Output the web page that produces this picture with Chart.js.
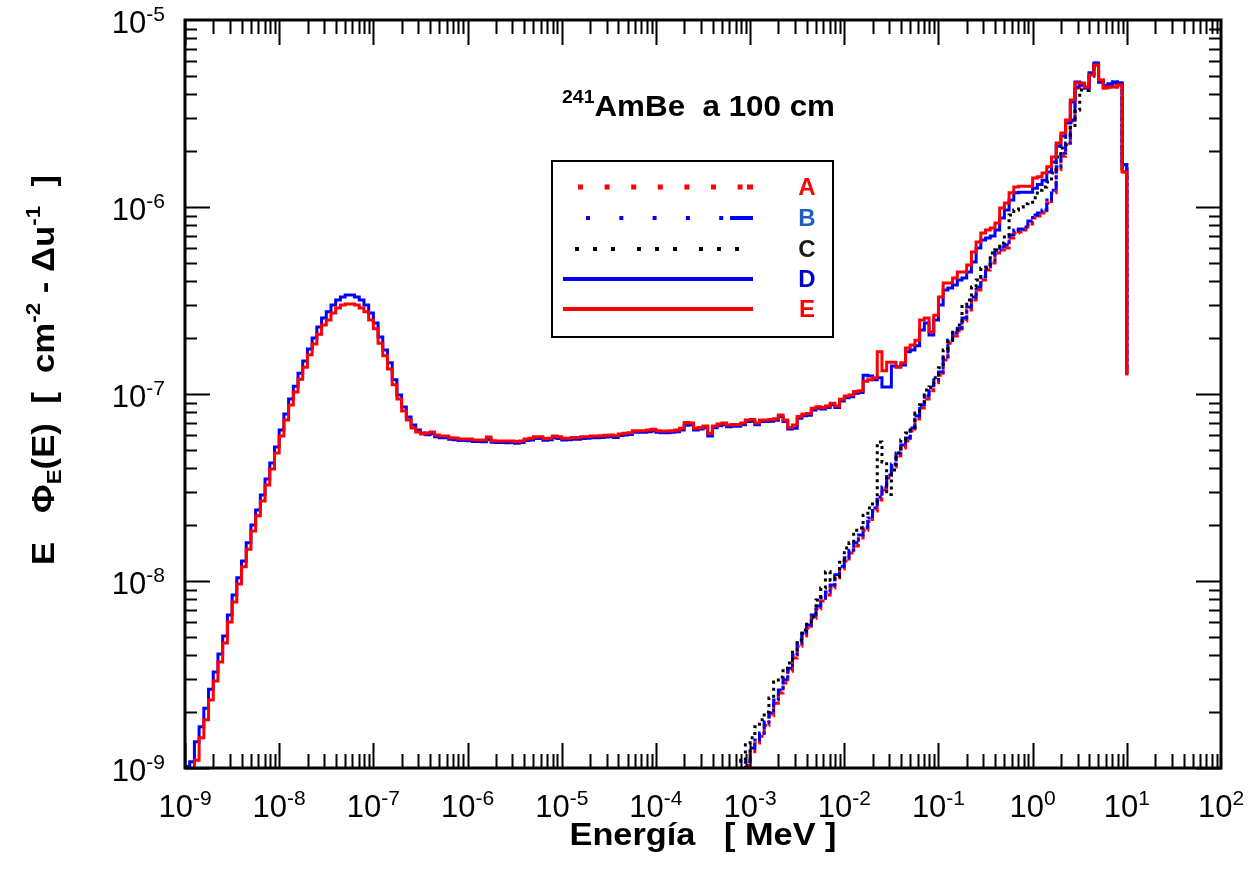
<!DOCTYPE html>
<html>
<head>
<meta charset="utf-8">
<script src="https://cdn.jsdelivr.net/npm/chart.js@4.4.1/dist/chart.umd.min.js"></script>
<style>
  html, body { margin: 0; padding: 0; background: #fff; }
  #wrap { width: 1257px; height: 879px; }
</style>
</head>
<body>
<div id="wrap"><canvas id="spectrumChart" width="1257" height="879"></canvas></div>
<script>
// Histograma de 20 grupos por decada, desde 1e-9 MeV. Cada valor es el del grupo
// que empieza en su borde izquierdo; el ultimo valor de cada serie es el punto
// final en 10 MeV (la caida vertical).
const logEMin = -9;
const binsPerDecade = 20;

// D: espectro completo (azul continuo), grupos 0..199 + final
const seriesD = [
  1.02e-9, 1.08e-9, 1.38e-9, 1.66e-9, 2.09e-9, 2.64e-9, 3.26e-9, 4.07e-9, 5.08e-9, 6.58e-9,
  8.41e-9, 1.04e-8, 1.28e-8, 1.60e-8, 1.99e-8, 2.40e-8, 2.88e-8, 3.51e-8, 4.27e-8, 5.21e-8,
  6.42e-8, 7.82e-8, 9.40e-8, 1.10e-7, 1.29e-7, 1.50e-7, 1.74e-7, 1.99e-7, 2.28e-7, 2.55e-7,
  2.75e-7, 2.99e-7, 3.18e-7, 3.30e-7, 3.38e-7, 3.38e-7, 3.30e-7, 3.18e-7, 2.99e-7, 2.71e-7,
  2.40e-7, 2.02e-7, 1.72e-7, 1.47e-7, 1.19e-7, 9.88e-8, 8.51e-8, 7.53e-8, 6.83e-8, 6.42e-8,
  6.18e-8, 6.06e-8, 6.13e-8, 5.91e-8, 5.84e-8, 5.84e-8, 5.72e-8, 5.70e-8, 5.64e-8, 5.64e-8,
  5.62e-8, 5.57e-8, 5.57e-8, 5.56e-8, 5.70e-8, 5.52e-8, 5.50e-8, 5.50e-8, 5.49e-8, 5.50e-8,
  5.46e-8, 5.50e-8, 5.64e-8, 5.68e-8, 5.79e-8, 5.78e-8, 5.66e-8, 5.69e-8, 5.84e-8, 5.79e-8,
  5.68e-8, 5.69e-8, 5.73e-8, 5.73e-8, 5.79e-8, 5.80e-8, 5.84e-8, 5.84e-8, 5.86e-8, 5.89e-8,
  5.91e-8, 5.86e-8, 5.99e-8, 6.04e-8, 6.08e-8, 6.24e-8, 6.24e-8, 6.24e-8, 6.29e-8, 6.34e-8,
  6.24e-8, 6.21e-8, 6.21e-8, 6.24e-8, 6.29e-8, 6.42e-8, 6.80e-8, 6.85e-8, 6.42e-8, 6.50e-8,
  6.60e-8, 5.96e-8, 6.60e-8, 6.77e-8, 6.85e-8, 6.69e-8, 6.73e-8, 6.72e-8, 6.85e-8, 7.12e-8,
  7.15e-8, 6.85e-8, 7.12e-8, 7.12e-8, 7.15e-8, 7.23e-8, 7.57e-8, 7.12e-8, 6.50e-8, 6.55e-8,
  7.43e-8, 7.66e-8, 7.70e-8, 8.22e-8, 8.39e-8, 8.31e-8, 8.46e-8, 8.75e-8, 8.46e-8, 9.17e-8,
  9.56e-8, 9.68e-8, 1.01e-7, 1.02e-7, 1.26e-7, 1.25e-7, 1.19e-7, 1.22e-7, 1.09e-7, 1.09e-7,
  1.41e-7, 1.40e-7, 1.43e-7, 1.68e-7, 1.72e-7, 1.81e-7, 2.20e-7, 2.40e-7, 2.07e-7, 2.49e-7,
  2.99e-7, 3.60e-7, 3.69e-7, 3.83e-7, 4.07e-7, 4.17e-7, 4.49e-7, 5.08e-7, 6.03e-7, 6.66e-7,
  6.83e-7, 7.00e-7, 7.53e-7, 8.73e-7, 9.64e-7, 1.09e-6, 1.19e-6, 1.20e-6, 1.20e-6, 1.20e-6,
  1.26e-6, 1.32e-6, 1.39e-6, 1.54e-6, 1.74e-6, 2.12e-6, 2.40e-6, 2.81e-6, 3.64e-6, 4.66e-6,
  4.49e-6, 4.33e-6, 5.21e-6, 5.89e-6, 4.66e-6, 4.44e-6, 4.55e-6, 4.66e-6, 4.60e-6, 1.68e-6,
  1.30e-7
];

// E: espectro completo (rojo continuo), grupos 0..199 + final
const seriesE = [
  9.6e-10, 9.9e-10, 1.10e-9, 1.45e-9, 1.81e-9, 2.31e-9, 2.92e-9, 3.69e-9, 4.66e-9, 6.04e-9,
  7.72e-9, 9.64e-9, 1.19e-8, 1.48e-8, 1.85e-8, 2.23e-8, 2.68e-8, 3.26e-8, 3.97e-8, 4.83e-8,
  5.96e-8, 7.26e-8, 8.73e-8, 1.025e-7, 1.20e-7, 1.39e-7, 1.62e-7, 1.85e-7, 2.09e-7, 2.34e-7,
  2.49e-7, 2.71e-7, 2.88e-7, 2.99e-7, 3.03e-7, 3.03e-7, 2.99e-7, 2.88e-7, 2.75e-7, 2.49e-7,
  2.23e-7, 1.87e-7, 1.60e-7, 1.36e-7, 1.12e-7, 9.40e-8, 8.11e-8, 7.26e-8, 6.58e-8, 6.26e-8,
  6.11e-8, 6.18e-8, 6.26e-8, 6.03e-8, 5.96e-8, 5.96e-8, 5.84e-8, 5.82e-8, 5.75e-8, 5.75e-8,
  5.75e-8, 5.68e-8, 5.68e-8, 5.68e-8, 5.89e-8, 5.63e-8, 5.61e-8, 5.61e-8, 5.61e-8, 5.61e-8,
  5.57e-8, 5.61e-8, 5.75e-8, 5.80e-8, 5.91e-8, 5.91e-8, 5.78e-8, 5.80e-8, 5.96e-8, 5.91e-8,
  5.80e-8, 5.80e-8, 5.85e-8, 5.85e-8, 5.91e-8, 5.91e-8, 5.96e-8, 5.96e-8, 5.98e-8, 6.01e-8,
  6.03e-8, 5.98e-8, 6.11e-8, 6.16e-8, 6.20e-8, 6.37e-8, 6.37e-8, 6.37e-8, 6.42e-8, 6.47e-8,
  6.37e-8, 6.34e-8, 6.34e-8, 6.37e-8, 6.42e-8, 6.55e-8, 7.03e-8, 6.99e-8, 6.55e-8, 6.63e-8,
  6.74e-8, 6.16e-8, 6.74e-8, 6.91e-8, 6.99e-8, 6.83e-8, 6.87e-8, 6.86e-8, 6.99e-8, 7.26e-8,
  7.30e-8, 6.99e-8, 7.26e-8, 7.26e-8, 7.30e-8, 7.38e-8, 7.72e-8, 7.26e-8, 6.63e-8, 6.83e-8,
  7.58e-8, 7.82e-8, 7.86e-8, 8.39e-8, 8.56e-8, 8.48e-8, 8.63e-8, 8.93e-8, 8.63e-8, 9.36e-8,
  9.76e-8, 9.88e-8, 1.03e-7, 1.04e-7, 1.17e-7, 1.19e-7, 1.22e-7, 1.68e-7, 1.33e-7, 1.48e-7,
  1.48e-7, 1.39e-7, 1.47e-7, 1.76e-7, 1.83e-7, 1.94e-7, 2.49e-7, 2.55e-7, 2.15e-7, 2.64e-7,
  3.30e-7, 3.92e-7, 3.92e-7, 4.17e-7, 4.49e-7, 4.49e-7, 4.90e-7, 5.74e-7, 6.50e-7, 7.26e-7,
  7.53e-7, 7.72e-7, 8.21e-7, 9.88e-7, 1.05e-6, 1.19e-6, 1.28e-6, 1.29e-6, 1.29e-6, 1.29e-6,
  1.43e-6, 1.45e-6, 1.52e-6, 1.64e-6, 1.85e-6, 2.20e-6, 2.49e-6, 2.92e-6, 3.73e-6, 4.60e-6,
  4.60e-6, 4.38e-6, 5.08e-6, 5.74e-6, 4.78e-6, 4.33e-6, 4.38e-6, 4.38e-6, 4.49e-6, 1.54e-6,
  1.26e-7
];

// A: componente rapida (rojo punteado), grupos 118..199 + final
const startA = 118;
const seriesA = [
  7.8e-10,
  1.03e-9, 1.22e-9, 1.36e-9, 1.48e-9, 1.69e-9, 1.90e-9, 2.22e-9, 2.52e-9, 2.85e-9, 3.29e-9,
  3.88e-9, 4.48e-9, 5.08e-9, 5.60e-9, 6.33e-9, 7.08e-9, 7.81e-9, 8.41e-9, 9.18e-9, 1.04e-8,
  1.16e-8, 1.28e-8, 1.41e-8, 1.54e-8, 1.70e-8, 1.87e-8, 2.09e-8, 2.37e-8, 2.71e-8, 3.07e-8,
  3.56e-8, 4.07e-8, 4.66e-8, 5.15e-8, 5.61e-8, 6.34e-8, 7.35e-8, 8.41e-8, 9.40e-8, 1.04e-7,
  1.15e-7, 1.26e-7, 1.52e-7, 1.87e-7, 2.04e-7, 2.17e-7, 2.46e-7, 2.81e-7, 3.18e-7, 3.60e-7,
  4.07e-7, 4.61e-7, 5.02e-7, 5.68e-7, 5.89e-7, 6.03e-7, 6.83e-7, 7.26e-7, 7.35e-7, 7.53e-7,
  8.11e-7, 8.73e-7, 8.95e-7, 9.29e-7, 1.05e-6, 1.19e-6, 1.58e-6, 1.87e-6, 2.15e-6, 2.85e-6,
  4.33e-6, 4.55e-6, 4.38e-6, 5.08e-6, 5.74e-6, 4.78e-6, 4.33e-6, 4.38e-6, 4.38e-6, 4.49e-6,
  1.54e-6,
  1.26e-7
];

// B: componente rapida (azul punto-raya), grupos 118..199 + final
const startB = 118;
const seriesB = [
  8.0e-10,
  1.08e-9, 1.28e-9, 1.41e-9, 1.54e-9, 1.76e-9, 1.97e-9, 2.31e-9, 2.61e-9, 2.96e-9, 3.42e-9,
  4.02e-9, 4.66e-9, 5.27e-9, 5.81e-9, 6.58e-9, 7.35e-9, 8.11e-9, 8.73e-9, 9.52e-9, 1.08e-8,
  1.20e-8, 1.33e-8, 1.46e-8, 1.60e-8, 1.76e-8, 1.94e-8, 2.17e-8, 2.46e-8, 2.81e-8, 3.18e-8,
  3.69e-8, 4.22e-8, 4.84e-8, 5.34e-8, 5.82e-8, 6.58e-8, 7.63e-8, 8.73e-8, 9.76e-8, 1.08e-7,
  1.19e-7, 1.31e-7, 1.58e-7, 1.94e-7, 2.12e-7, 2.25e-7, 2.55e-7, 2.92e-7, 3.30e-7, 3.73e-7,
  4.22e-7, 4.78e-7, 5.21e-7, 5.89e-7, 6.11e-7, 6.26e-7, 7.08e-7, 7.53e-7, 7.63e-7, 7.82e-7,
  8.41e-7, 9.06e-7, 9.28e-7, 9.64e-7, 1.09e-6, 1.23e-6, 1.64e-6, 1.94e-6, 2.20e-6, 2.92e-6,
  4.38e-6, 4.49e-6, 4.33e-6, 5.21e-6, 5.89e-6, 4.66e-6, 4.44e-6, 4.55e-6, 4.66e-6, 4.60e-6,
  1.68e-6,
  1.30e-7
];

// C: (negro punteado), grupos 117..199 + final
const startC = 117;
const seriesC = [
  8.0e-10, 1.10e-9,
  1.33e-9, 1.45e-9, 1.66e-9, 1.81e-9, 1.99e-9, 2.37e-9, 2.88e-9, 3.07e-9, 3.42e-9, 3.64e-9,
  4.28e-9, 4.84e-9, 5.47e-9, 6.04e-9, 6.42e-9, 7.91e-9, 9.18e-9, 1.12e-8, 1.01e-8, 1.05e-8,
  1.26e-8, 1.50e-8, 1.60e-8, 1.87e-8, 1.92e-8, 2.25e-8, 2.46e-8, 2.65e-8, 5.54e-8, 4.33e-8,
  2.90e-8, 3.92e-8, 4.84e-8, 5.68e-8, 6.18e-8, 6.66e-8, 7.91e-8, 8.73e-8, 1.05e-7, 1.09e-7,
  1.22e-7, 1.38e-7, 1.72e-7, 1.94e-7, 2.20e-7, 2.34e-7, 2.99e-7, 3.18e-7, 3.73e-7, 4.07e-7,
  4.72e-7, 4.72e-7, 5.68e-7, 5.89e-7, 6.42e-7, 7.08e-7, 9.06e-7, 9.64e-7, 1.00e-6, 1.04e-6,
  1.06e-6, 1.12e-6, 1.23e-6, 1.28e-6, 1.36e-6, 1.52e-6, 1.85e-6, 2.07e-6, 2.37e-6, 2.65e-6,
  3.30e-6, 4.22e-6, 4.20e-6, 5.00e-6, 5.70e-6, 4.70e-6, 4.40e-6, 4.50e-6, 4.60e-6, 4.50e-6,
  1.60e-6,
  1.28e-7
];

// Etiquetas de los ejes (exponentes de las decadas)
const xTickExps = [-9, -8, -7, -6, -5, -4, -3, -2, -1, 0, 1, 2];
const yTickExps = [-9, -8, -7, -6, -5];
const legendLabels = ['A', 'B', 'C', 'D', 'E'];

const FONT = '"Liberation Sans", Arial, Helvetica, sans-serif';
const RED = '#ff0000';
const BLUE = '#0000ff';

// Convierte una serie de grupos en puntos {x, y} para la linea escalonada
function toSteps(values, firstBin) {
    return values.map((v, i) => ({
        x: Math.pow(10, logEMin + (firstBin + i) / binsPerDecade),
        y: v
    }));
}

// Dibuja un texto con partes de distinto tamano (superindices / subindices).
// Si se da "width", el texto se estira horizontalmente hasta ese ancho.
function drawRich(ctx, pieces, x, y, align, width) {
    let total = 0;
    pieces.forEach(p => {
        ctx.font = `${p.bold ? 'bold ' : ''}${p.size}px ${FONT}`;
        p.w = ctx.measureText(p.text).width;
        total += p.w;
    });
    const sx = width ? width / total : 1;
    const shown = total * sx;
    let x0 = x;
    if (align === 'center') x0 = x - shown / 2;
    else if (align === 'right') x0 = x - shown;
    ctx.save();
    ctx.translate(x0, y);
    ctx.scale(sx, 1);
    ctx.textAlign = 'left';
    ctx.textBaseline = 'alphabetic';
    let cx = 0;
    pieces.forEach(p => {
        ctx.font = `${p.bold ? 'bold ' : ''}${p.size}px ${FONT}`;
        ctx.fillText(p.text, cx, p.shift || 0);
        cx += p.w;
    });
    ctx.restore();
}

function powerPieces(exp) {
    return [
        { text: '10', size: 31 },
        { text: String(exp), size: 21, shift: -12 }
    ];
}

// Marco, marcas interiores, etiquetas, titulos y leyenda
const framePlugin = {
    id: 'frame',
    afterDraw(chart) {
        const { ctx, chartArea: a } = chart;
        const xs = chart.scales.x;
        const ys = chart.scales.y;
        ctx.save();
        ctx.strokeStyle = '#000';
        ctx.fillStyle = '#000';
        ctx.setLineDash([]);

        // marcas del eje x (abajo y arriba)
        ctx.lineWidth = 2;
        ctx.beginPath();
        for (let p = xTickExps[0]; p < xTickExps[xTickExps.length - 1]; p++) {
            for (let m = 1; m <= 9; m++) {
                const px = Math.round(xs.getPixelForValue(m * Math.pow(10, p))) + 0.5;
                const len = m === 1 ? 25 : 14;
                ctx.moveTo(px, a.bottom); ctx.lineTo(px, a.bottom - len);
                ctx.moveTo(px, a.top); ctx.lineTo(px, a.top + len);
            }
        }
        // marcas del eje y (izquierda y derecha)
        for (let p = yTickExps[0]; p < yTickExps[yTickExps.length - 1]; p++) {
            for (let m = 1; m <= 9; m++) {
                const py = Math.round(ys.getPixelForValue(m * Math.pow(10, p))) + 0.5;
                const len = m === 1 ? 25 : 12;
                ctx.moveTo(a.left, py); ctx.lineTo(a.left + len, py);
                ctx.moveTo(a.right, py); ctx.lineTo(a.right - len, py);
            }
        }
        ctx.stroke();

        ctx.lineWidth = 3;
        ctx.strokeRect(a.left, a.top, a.right - a.left, a.bottom - a.top);

        // etiquetas de las decadas
        xTickExps.forEach(e => {
            drawRich(ctx, powerPieces(e), xs.getPixelForValue(Math.pow(10, e)), a.bottom + 49, 'center');
        });
        yTickExps.forEach(e => {
            drawRich(ctx, powerPieces(e), a.left - 20, ys.getPixelForValue(Math.pow(10, e)) + 13, 'right');
        });

        // titulo del eje x
        drawRich(ctx, [{ text: 'Energía   [ MeV ]', size: 31, bold: true }],
            (a.left + a.right) / 2, a.bottom + 77, 'center', 267);

        // titulo del eje y (girado)
        ctx.save();
        ctx.translate(54, 370);
        ctx.rotate(-Math.PI / 2);
        drawRich(ctx, [
            { text: 'E   Φ', size: 31, bold: true },
            { text: 'E', size: 20, bold: true, shift: 7 },
            { text: '(E)  [  cm', size: 31, bold: true },
            { text: '-2', size: 20, bold: true, shift: -14 },
            { text: ' - Δu', size: 31, bold: true },
            { text: '-1', size: 20, bold: true, shift: -14 },
            { text: '  ]', size: 31, bold: true }
        ], 0, 0, 'center', 390);
        ctx.restore();

        // titulo interior
        drawRich(ctx, [
            { text: '241', size: 18, bold: true, shift: -13 },
            { text: 'AmBe  a 100 cm', size: 29, bold: true }
        ], 562, 116, 'left', 273);

        // leyenda
        ctx.lineWidth = 2;
        ctx.strokeRect(552, 161, 281, 176);
        const rows = [187, 218, 249, 279, 309];
        const labelColors = [RED, '#1f5fbf', '#1a1a1a', '#0000cc', RED];

        // A
        ctx.strokeStyle = RED; ctx.lineWidth = 5;
        ctx.setLineDash([5, 21.6]);
        ctx.beginPath(); ctx.moveTo(578, rows[0]); ctx.lineTo(744, rows[0]); ctx.stroke();
        ctx.setLineDash([]);
        ctx.beginPath(); ctx.moveTo(747, rows[0]); ctx.lineTo(753, rows[0]); ctx.stroke();
        // B
        ctx.strokeStyle = BLUE; ctx.lineWidth = 4;
        ctx.setLineDash([4, 29.3]);
        ctx.beginPath(); ctx.moveTo(586, rows[1]); ctx.lineTo(726, rows[1]); ctx.stroke();
        ctx.setLineDash([]);
        ctx.beginPath(); ctx.moveTo(730, rows[1]); ctx.lineTo(753, rows[1]); ctx.stroke();
        // C
        ctx.strokeStyle = '#000'; ctx.lineWidth = 4;
        ctx.setLineDash([4, 14, 4, 14, 4, 22]);
        ctx.beginPath(); ctx.moveTo(575, rows[2]); ctx.lineTo(742, rows[2]); ctx.stroke();
        ctx.setLineDash([]);
        // D
        ctx.strokeStyle = BLUE; ctx.lineWidth = 4;
        ctx.beginPath(); ctx.moveTo(563, rows[3]); ctx.lineTo(753, rows[3]); ctx.stroke();
        // E
        ctx.strokeStyle = RED; ctx.lineWidth = 4;
        ctx.beginPath(); ctx.moveTo(563, rows[4]); ctx.lineTo(753, rows[4]); ctx.stroke();

        ctx.textAlign = 'center';
        ctx.textBaseline = 'middle';
        ctx.font = `bold 24px ${FONT}`;
        legendLabels.forEach((lab, i) => {
            ctx.fillStyle = labelColors[i];
            ctx.fillText(lab, 807, rows[i] + 1);
        });
        ctx.restore();
    }
};

function stepDataset(label, values, firstBin, color, dash, order) {
    return {
        label: label,
        data: toSteps(values, firstBin),
        borderColor: color,
        borderWidth: 3,
        borderDash: dash,
        borderJoinStyle: 'miter',
        borderCapStyle: 'butt',
        stepped: true,
        pointRadius: 0,
        fill: false,
        order: order
    };
}

const ctx = document.getElementById('spectrumChart').getContext('2d');
new Chart(ctx, {
    type: 'line',
    data: {
        datasets: [
            stepDataset(legendLabels[0], seriesA, startA, RED, [5, 2], 4),
            stepDataset(legendLabels[1], seriesB, startB, BLUE, [9, 2, 3, 2], 3),
            stepDataset(legendLabels[2], seriesC, startC, '#000', [3, 4], 2),
            stepDataset(legendLabels[3], seriesD, 0, BLUE, [], 1),
            stepDataset(legendLabels[4], seriesE, 0, RED, [], 0)
        ]
    },
    options: {
        responsive: false,
        animation: false,
        devicePixelRatio: 1,
        layout: { padding: { left: 185, right: 36, top: 20, bottom: 111 } },
        scales: {
            x: { type: 'logarithmic', min: 1e-9, max: 1e2, display: false },
            y: { type: 'logarithmic', min: 1e-9, max: 1e-5, display: false }
        },
        plugins: {
            legend: { display: false },
            tooltip: { enabled: false }
        }
    },
    plugins: [framePlugin]
});
</script>
</body>
</html>
